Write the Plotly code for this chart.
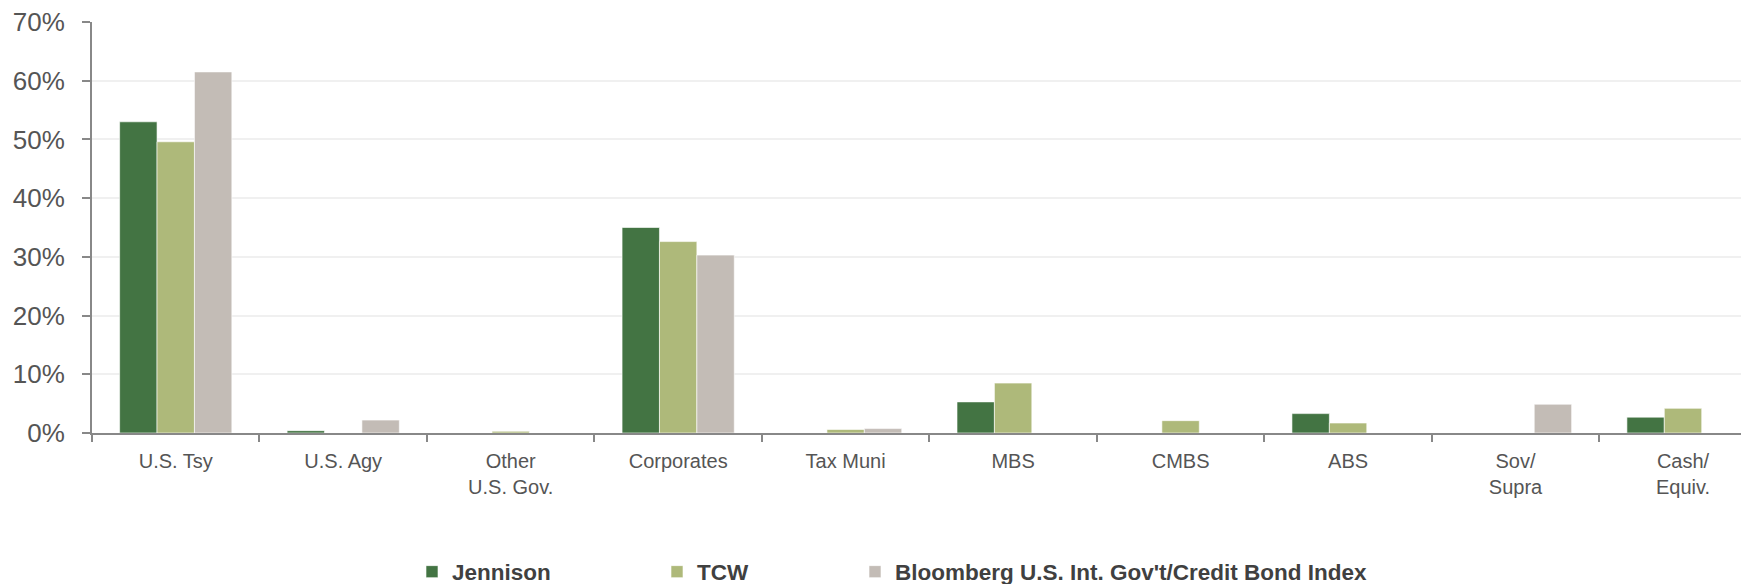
import plotly.graph_objects as go

categories = ["U.S. Tsy", "U.S. Agy", "Other<br>U.S. Gov.", "Corporates", "Tax Muni",
              "MBS", "CMBS", "ABS", "Sov/<br>Supra", "Cash/<br>Equiv."]
jennison = [53.0, 0.4, 0.0, 35.0, 0.0, 5.3, 0.0, 3.3, 0.0, 2.7]
tcw = [49.6, 0.0, 0.3, 32.6, 0.6, 8.5, 2.1, 1.7, 0.0, 4.2]
bloomberg = [61.5, 2.2, 0.0, 30.3, 0.75, 0.0, 0.0, 0.0, 4.9, 0.0]
y_ticks = [0, 10, 20, 30, 40, 50, 60, 70]
y_tick_labels = [f"{v}%" for v in y_ticks]

series = [
    ("Jennison", jennison, "#437443", "legend"),
    ("TCW", tcw, "#aeb97a", "legend2"),
    ("Bloomberg U.S. Int. Gov't/Credit Bond Index", bloomberg, "#c3bcb6", "legend3"),
]

W, H = 1749, 584
OFF = 8  # page body margin in the viewer

fig = go.Figure()
for name, vals, color, leg in series:
    fig.add_trace(go.Bar(
        x=categories, y=vals, name=name, legend=leg, showlegend=True,
        marker=dict(color=color, line=dict(color="rgba(255,255,255,0.6)", width=1)),
    ))

legend_font = dict(family="Liberation Sans Narrow, Liberation Sans, Arial, sans-serif", size=22.5,
                   color="#404040", weight="bold")
leg_common = dict(orientation="h", xref="container", yref="container",
                  yanchor="middle", y=1 - (572 - OFF) / H, xanchor="left",
                  font=legend_font, bgcolor="rgba(0,0,0,0)", itemwidth=30,
                  tracegroupgap=0)

fig.update_layout(
    width=W, height=H,
    margin=dict(l=92 - OFF, r=OFF, t=22 - OFF, b=H - (433.5 - OFF), autoexpand=False),
    paper_bgcolor="white", plot_bgcolor="white",
    showlegend=True,
    barmode="group", bargap=0.33, bargroupgap=0,
    legend=dict(x=(426 - OFF - 14) / W, **leg_common),
    legend2=dict(x=(671 - OFF - 14) / W, **leg_common),
    legend3=dict(x=(869 - OFF - 14) / W, **leg_common),
    xaxis=dict(
        type="category", range=[-0.5, 9.394], tickson="boundaries",
        ticks="outside", ticklen=7, tickwidth=2, tickcolor="#888888",
        showline=True, linecolor="#888888", linewidth=2,
        showgrid=False, automargin=False, ticklabelstandoff=9,
        tickfont=dict(family="Liberation Sans, Arial, sans-serif", size=20, color="#555555"),
    ),
    yaxis=dict(
        range=[0, 70], tickvals=y_ticks, ticktext=y_tick_labels,
        ticks="outside", ticklen=8, tickwidth=2, tickcolor="#888888",
        showline=True, linecolor="#888888", linewidth=2,
        showgrid=True, gridcolor="#f0f0f0", gridwidth=2,
        zeroline=False, automargin=False, ticklabelstandoff=12,
        ticklabeloverflow="allow",
        tickfont=dict(family="Liberation Sans, Arial, sans-serif", size=26, color="#555555"),
    ),
)

fig.write_html("out.html")
